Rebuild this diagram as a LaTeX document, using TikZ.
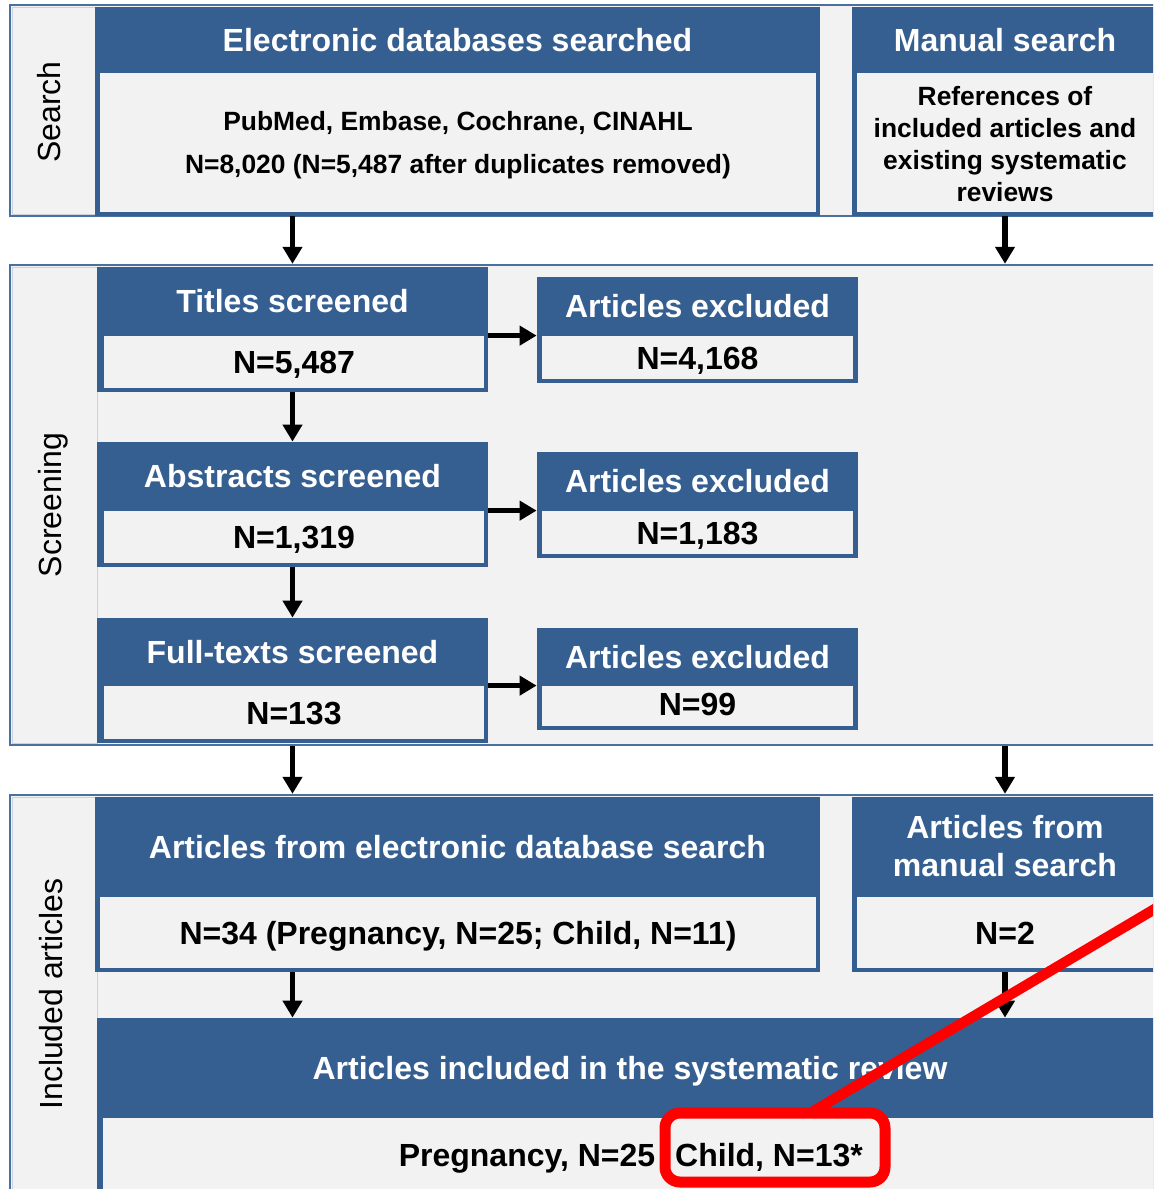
\documentclass[tikz,border=0pt]{standalone}
\usepackage{fontspec}
\setmainfont{Liberation Sans}
\usetikzlibrary{arrows.meta,fit}
\definecolor{boxblue}{HTML}{365F91}
\definecolor{frameblue}{HTML}{4A70A0}
\definecolor{softgray}{HTML}{F2F2F2}
\definecolor{panelline}{HTML}{C9D3E0}
\tikzset{
  frame/.style={draw=frameblue,line width=1.2pt,fill=softgray,inner sep=0pt},
  panel/.style={draw=panelline,line width=0.5pt,fill=softgray,inner sep=0pt},
  sidelabel/.style={rotate=90,font=\fontsize{16}{19}\selectfont},
  bluebox/.style={fill=boxblue,inner sep=0pt},
  lightbox/.style={fill=softgray,inner sep=0pt},
  area/.style={inner sep=0pt},
  headtext/.style={text=white,align=center,inner sep=0pt,font=\bfseries\fontsize{16}{19}\selectfont},
  bodytext/.style={align=center,inner sep=0pt,font=\bfseries\fontsize{16}{19}\selectfont},
  smalltext/.style={align=center,inner sep=0pt,font=\bfseries\fontsize{13.2}{16}\selectfont},
  oneline/.style={text height=11.5pt,text depth=0pt},
  arrow/.style={-{Triangle[length=8.5pt,width=9.5pt]},line width=2.6pt,black},
  redmark/.style={draw=red,line width=5.5pt,rounded corners=7.5pt,inner sep=0pt}
}

\begin{document}
\begin{tikzpicture}[x=0.5pt,y=-0.5pt]
  \useasboundingbox (0,0) rectangle (1153,1189);
  \clip (0,0) rectangle (1153,1189);
  % section frames
  \node[frame,fit={(10,5) (1170,216)}] (search) {};
  \node[frame,fit={(10,265) (1170,745)}] (screen) {};
  \node[frame,fit={(10,795) (1170,1210)}] (incl) {};
  \node[panel,fit={(12,7) (95,214)}] (searchP) {};
  \node[panel,fit={(12,267) (97,743)}] (screenP) {};
  \node[panel,fit={(12,797) (97,1205)}] (inclP) {};
  \node[sidelabel] at (49,112) {Search};
  \node[sidelabel] at (53,505) {Screening};
  \node[sidelabel] at (51,994) {Included articles};

  % search
  \node[bluebox,fit={(95,7) (820,216)}] (elec) {};
  \node[area,fit={(95,7) (820,72)}] (elecH) {};
  \node[lightbox,fit={(100,73) (816,212)}] (elecN) {};
  \node[headtext,oneline] at (elecH) {Electronic databases searched};
  \node[smalltext] at ([yshift=-1.5pt]elecN.center) {PubMed, Embase, Cochrane, CINAHL\\[5.5pt]N=8,020 (N=5,487 after duplicates removed)};
  \node[bluebox,fit={(852,7) (1158,216)}] (manual) {};
  \node[area,fit={(852,7) (1158,72)}] (manualH) {};
  \node[lightbox,fit={(857,73) (1153,212)}] (manualN) {};
  \node[headtext,oneline] at (manualH) {Manual search};
  \node[smalltext] at ([yshift=-1pt]manualN.center) {References of\\included articles and\\existing systematic\\reviews};

  % screening
  \node[bluebox,fit={(97,267) (488,392)}] (titles) {};
  \node[area,fit={(97,267) (488,335)}] (titlesH) {};
  \node[lightbox,fit={(104,336) (484,388)}] (titlesN) {};
  \node[headtext,oneline] at (titlesH) {Titles screened};
  \node[bodytext,oneline] at (titlesN) {N=5,487};
  \node[bluebox,fit={(537,277) (858,383)}] (exclA) {};
  \node[area,fit={(537,277) (858,335)}] (exclAH) {};
  \node[lightbox,fit={(542,336) (853,379)}] (exclAN) {};
  \node[headtext,oneline] at (exclAH) {Articles excluded};
  \node[bodytext,oneline] at (exclAN) {N=4,168};

  \node[bluebox,fit={(97,442) (488,567)}] (abstracts) {};
  \node[area,fit={(97,442) (488,510)}] (abstractsH) {};
  \node[lightbox,fit={(104,511) (484,563)}] (abstractsN) {};
  \node[headtext,oneline] at (abstractsH) {Abstracts screened};
  \node[bodytext,oneline] at (abstractsN) {N=1,319};
  \node[bluebox,fit={(537,452) (858,558)}] (exclB) {};
  \node[area,fit={(537,452) (858,510)}] (exclBH) {};
  \node[lightbox,fit={(542,511) (853,554)}] (exclBN) {};
  \node[headtext,oneline] at (exclBH) {Articles excluded};
  \node[bodytext,oneline] at (exclBN) {N=1,183};

  \node[bluebox,fit={(97,618) (488,743)}] (fulltext) {};
  \node[area,fit={(97,618) (488,685)}] (fulltextH) {};
  \node[lightbox,fit={(104,686) (484,739)}] (fulltextN) {};
  \node[headtext,oneline] at (fulltextH) {Full-texts screened};
  \node[bodytext,oneline] at (fulltextN) {N=133};
  \node[bluebox,fit={(537,628) (858,730)}] (exclC) {};
  \node[area,fit={(537,628) (858,685)}] (exclCH) {};
  \node[lightbox,fit={(542,686) (853,726)}] (exclCN) {};
  \node[headtext,oneline] at (exclCH) {Articles excluded};
  \node[bodytext,oneline] at ([yshift=1pt]exclCN.center) {N=99};

  % included articles
  \node[bluebox,fit={(95,797) (820,972)}] (dbart) {};
  \node[area,fit={(95,797) (820,896)}] (dbartH) {};
  \node[lightbox,fit={(100,897) (816,968)}] (dbartN) {};
  \node[headtext,oneline] at (dbartH) {Articles from electronic database search};
  \node[bodytext,oneline] at (dbartN) {N=34 (Pregnancy, N=25; Child, N=11)};
  \node[bluebox,fit={(852,797) (1158,972)}] (manart) {};
  \node[area,fit={(852,797) (1158,896)}] (manartH) {};
  \node[lightbox,fit={(857,897) (1153,968)}] (manartN) {};
  \node[headtext] at (manartH) {Articles from\\manual search};
  \node[bodytext,oneline] at (manartN) {N=2};

  \node[bluebox,fit={(97,1018) (1170,1210)}] (review) {};
  \node[area,fit={(97,1018) (1163,1117)}] (reviewH) {};
  \node[lightbox,fit={(103,1118) (1170,1210)}] (reviewN) {};
  \node[headtext,oneline] at (reviewH) {Articles included in the systematic review};
  \node[bodytext,oneline] (preg) at (527,1155) {Pregnancy, N=25};
  \node[bodytext,oneline] (child) at (769,1155) {Child, N=13*};

  % arrows
  \draw[arrow] (elec.south -| titles.north) -- (screen.north -| titles.north);
  \draw[arrow] (manual.south) -- (manual.south |- screen.north);
  \draw[arrow] (titles.south) -- (abstracts.north);
  \draw[arrow] (abstracts.south) -- (fulltext.north);
  \draw[arrow] (titles.east |- exclAN.north) -- (exclA.west |- exclAN.north);
  \draw[arrow] (abstracts.east |- exclBN.north) -- (exclB.west |- exclBN.north);
  \draw[arrow] (fulltext.east |- exclCN.north) -- (exclC.west |- exclCN.north);
  \draw[arrow] (screen.south -| fulltext.south) -- (incl.north -| fulltext.south);
  \draw[arrow] (screen.south -| manart.north) -- (incl.north -| manart.north);
  \draw[arrow] (dbart.south -| titles.south) -- (review.north -| titles.south);
  \draw[arrow] (manart.south) -- (manart.south |- review.north);

  % red mark
  \node[redmark,fit={(665,1113) (885,1182)}] (hl) {};
  \coordinate (hlstart) at (812,1112);
  \coordinate (hlend) at (1175,897);
  \draw[red,line width=5.2pt] (hlstart) -- (hlend);
\end{tikzpicture}
\end{document}
